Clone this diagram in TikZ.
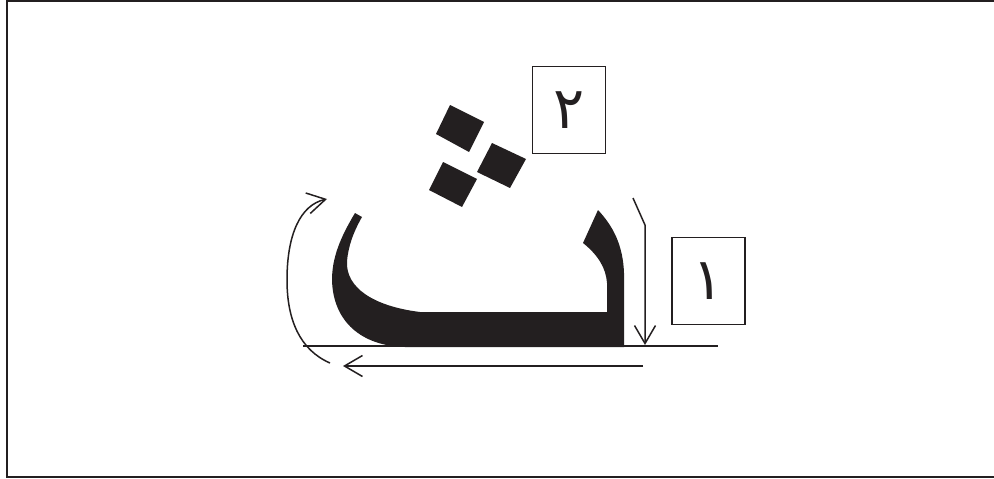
\documentclass[tikz,border=0pt]{standalone}
\usepackage{fontspec}
\newfontfamily\arabicfont[Script=Arabic]{DejaVu Sans}
\TeXXeTstate=1
\usetikzlibrary{arrows.meta}
\definecolor{ink}{RGB}{35,31,32}

\begin{document}
\begin{tikzpicture}[x=1pt,y=-1pt,>={Straight Barb[length=18pt,width=21pt]},
  numbox/.style={draw=ink,line width=1.6pt,minimum width=73pt,minimum height=87pt,inner sep=0pt,
    text=ink,font=\arabicfont\fontsize{58}{58}\selectfont},
  guide/.style={draw=ink,line width=1.5pt},
  arrow/.style={guide,->},
  dot/.style={fill=ink}]
  \useasboundingbox (0,0) rectangle (994,479);
  \draw[ink,line width=2pt] (1010,0.5) -- (7,0.5) -- (7,476.5) -- (1010,476.5);

  % baseline behind the letter
  \coordinate (baseL) at (303,346);
  \coordinate (baseR) at (718,346);
  \draw[guide] (baseL) -- (baseR);

  % the letter
  \fill[ink] (355,213) .. controls (340,238) and (332,258) .. (332,280)
    .. controls (333,322) and (362,346) .. (405,347) -- (624,347) -- (624,273)
    .. controls (623,245) and (613,226) .. (598,210) -- (583,243)
    .. controls (598,255) and (606,268) .. (607,283) -- (607,312) -- (420,312)
    .. controls (372,306) and (346,287) .. (347,262)
    .. controls (348,246) and (354,231) .. (362,217) -- cycle;
  \fill[dot] (450,105) -- (484,122) -- (469,152) -- (436,134) -- cycle;
  \fill[dot] (492,143) -- (526,159) -- (510,188) -- (477,172) -- cycle;
  \fill[dot] (443,162) -- (477,179) -- (462,207) -- (429,190) -- cycle;

  % numbered boxes
  \node[numbox] (box2) at (569,110) {\beginR ٢\endR};
  \node[numbox] (box1) at (708.5,281) {\beginR ١\endR};

  % stroke arrows
  \coordinate (downS) at (633,198);
  \coordinate (downK) at (645,225);
  \coordinate (downE) at (645,345);
  \draw[arrow] (downS) -- (downK) -- (downE);

  \coordinate (leftS) at (643,366);
  \coordinate (leftE) at (343,366);
  \draw[arrow] (leftS) -- (leftE);

  \coordinate (turnS) at (330,363);
  \coordinate (turnE) at (327,199);
  \draw[arrow] (turnS) .. controls (300,350) and (287,320) .. (287,280)
    .. controls (287,235) and (300,205) .. (turnE);
\end{tikzpicture}
\end{document}
